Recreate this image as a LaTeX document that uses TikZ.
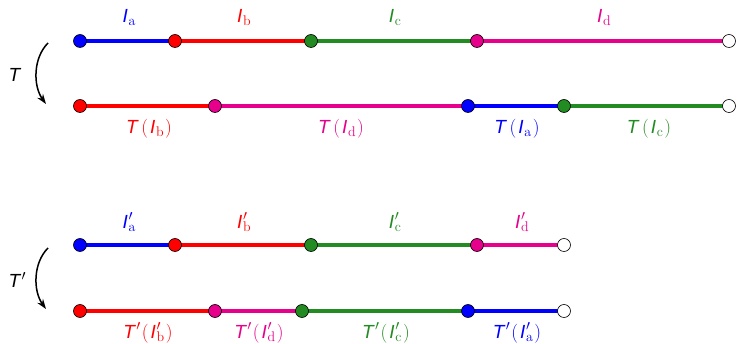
\documentclass[tikz,border=0pt]{standalone}
\usepackage{fontspec}
\setmainfont{Liberation Sans}
\newfontfamily\lmr{Latin Modern Roman}
\usetikzlibrary{arrows.meta}
\definecolor{cA}{RGB}{0,0,255}
\definecolor{cB}{RGB}{255,0,0}
\definecolor{cC}{RGB}{34,139,34}
\definecolor{cD}{RGB}{230,0,140}
\newcommand{\sub}[1]{{\lmr\fontsize{14}{15}\selectfont\raisebox{-3pt}{#1}}}
\newcommand{\pr}{\raisebox{7.5pt}{\lmr\fontsize{14}{15}\selectfont$\prime$}}
\newcommand{\lbl}[1]{\textit{I}\kern0.8pt\sub{#1}}
\newcommand{\lblp}[1]{\textit{I}\kern0.8pt\rlap{\pr}\sub{#1}}
\newcommand{\pl}{{\lmr(}}
\newcommand{\pR}{{\lmr)}}
\newcommand{\TT}[1]{\textit{T}\kern2.5pt\pl\kern2pt#1\kern1.5pt\pR}
\newcommand{\TTp}[1]{\textit{T}\kern0.3pt\pr\kern1.5pt\pl\kern2pt#1\kern1.5pt\pR}
\begin{document}
\begin{tikzpicture}[x=1pt,y=-1pt,
  seg/.style={line width=4.2pt},
  dot/.style={circle,draw=black,line width=0.6pt,minimum size=13pt,inner sep=0pt},
  lab/.style={font=\fontsize{19}{20}\selectfont,inner sep=0pt},
  maparrow/.style={-{Stealth[length=10pt,width=7pt]},line width=1.5pt}]
\useasboundingbox (0,0) rectangle (737,344);
% row 1
\coordinate (a1) at (80,41);
\coordinate (b1) at (175,41);
\coordinate (c1) at (311,41);
\coordinate (d1) at (477,41);
\coordinate (e1) at (729,41);
% row 2
\coordinate (a2) at (80,106);
\coordinate (b2) at (215,106);
\coordinate (c2) at (468,106);
\coordinate (d2) at (564,106);
\coordinate (e2) at (729,106);
% row 3
\coordinate (a3) at (80,245);
\coordinate (b3) at (175,245);
\coordinate (c3) at (311,245);
\coordinate (d3) at (477,245);
\coordinate (e3) at (564,245);
% row 4
\coordinate (a4) at (80,311);
\coordinate (b4) at (215,311);
\coordinate (c4) at (302,311);
\coordinate (d4) at (468,311);
\coordinate (e4) at (564,311);
% segments
\draw[seg,cA] (a1) -- (b1);
\draw[seg,cB] (b1) -- (c1);
\draw[seg,cC] (c1) -- (d1);
\draw[seg,cD] (d1) -- (e1);
\draw[seg,cB] (a2) -- (b2);
\draw[seg,cD] (b2) -- (c2);
\draw[seg,cA] (c2) -- (d2);
\draw[seg,cC] (d2) -- (e2);
\draw[seg,cA] (a3) -- (b3);
\draw[seg,cB] (b3) -- (c3);
\draw[seg,cC] (c3) -- (d3);
\draw[seg,cD] (d3) -- (e3);
\draw[seg,cB] (a4) -- (b4);
\draw[seg,cD] (b4) -- (c4);
\draw[seg,cC] (c4) -- (d4);
\draw[seg,cA] (d4) -- (e4);
% dots on top
\foreach \n/\c in {a1/cA,b1/cB,c1/cC,d1/cD,e1/white,a2/cB,b2/cD,c2/cA,d2/cC,e2/white,a3/cA,b3/cB,c3/cC,d3/cD,e3/white,a4/cB,b4/cD,c4/cC,d4/cA,e4/white}
  \node[dot,fill=\c] (dot-\n) at (\n) {};
% labels row 1
\node[lab,text=cA] (la1) at (129,18) {\lbl{a}};
\node[lab,text=cB] (lb1) at (244,18) {\lbl{b}};
\node[lab,text=cC] (lc1) at (395,18) {\lbl{c}};
\node[lab,text=cD] (ld1) at (604,18) {\lbl{d}};
% labels row 2
\node[lab,text=cB] (la2) at (149,129) {\TT{\lbl{b}}};
\node[lab,text=cD] (lb2) at (341,129) {\TT{\lbl{d}}};
\node[lab,text=cA] (lc2) at (517,129) {\TT{\lbl{a}}};
\node[lab,text=cC] (ld2) at (649,129) {\TT{\lbl{c}}};
% labels row 3
\node[lab,text=cA] (la3) at (129,222) {\lblp{a}};
\node[lab,text=cB] (lb3) at (244,222) {\lblp{b}};
\node[lab,text=cC] (lc3) at (395,222) {\lblp{c}};
\node[lab,text=cD] (ld3) at (522,222) {\lblp{d}};
% labels row 4
\node[lab,text=cB] (la4) at (148,333) {\TTp{\lblp{b}}};
\node[lab,text=cD] (lb4) at (259,333) {\TTp{\lblp{d}}};
\node[lab,text=cC] (lc4) at (386,333) {\TTp{\lblp{c}}};
\node[lab,text=cA] (ld4) at (517,333) {\TTp{\lblp{a}}};
% maps
\node[lab] (T) at (15,75) {\textit{T}};
\coordinate (t1s) at (48,43);
\coordinate (t1e) at (46,104);
\draw[maparrow] (t1s) .. controls (33,58) and (33,86) .. (t1e);
\node[lab] (Tp) at (17,280) {\textit{T}\kern0.3pt\pr};
\coordinate (t2s) at (48,248);
\coordinate (t2e) at (46,309);
\draw[maparrow] (t2s) .. controls (33,263) and (33,291) .. (t2e);
\end{tikzpicture}
\end{document}
